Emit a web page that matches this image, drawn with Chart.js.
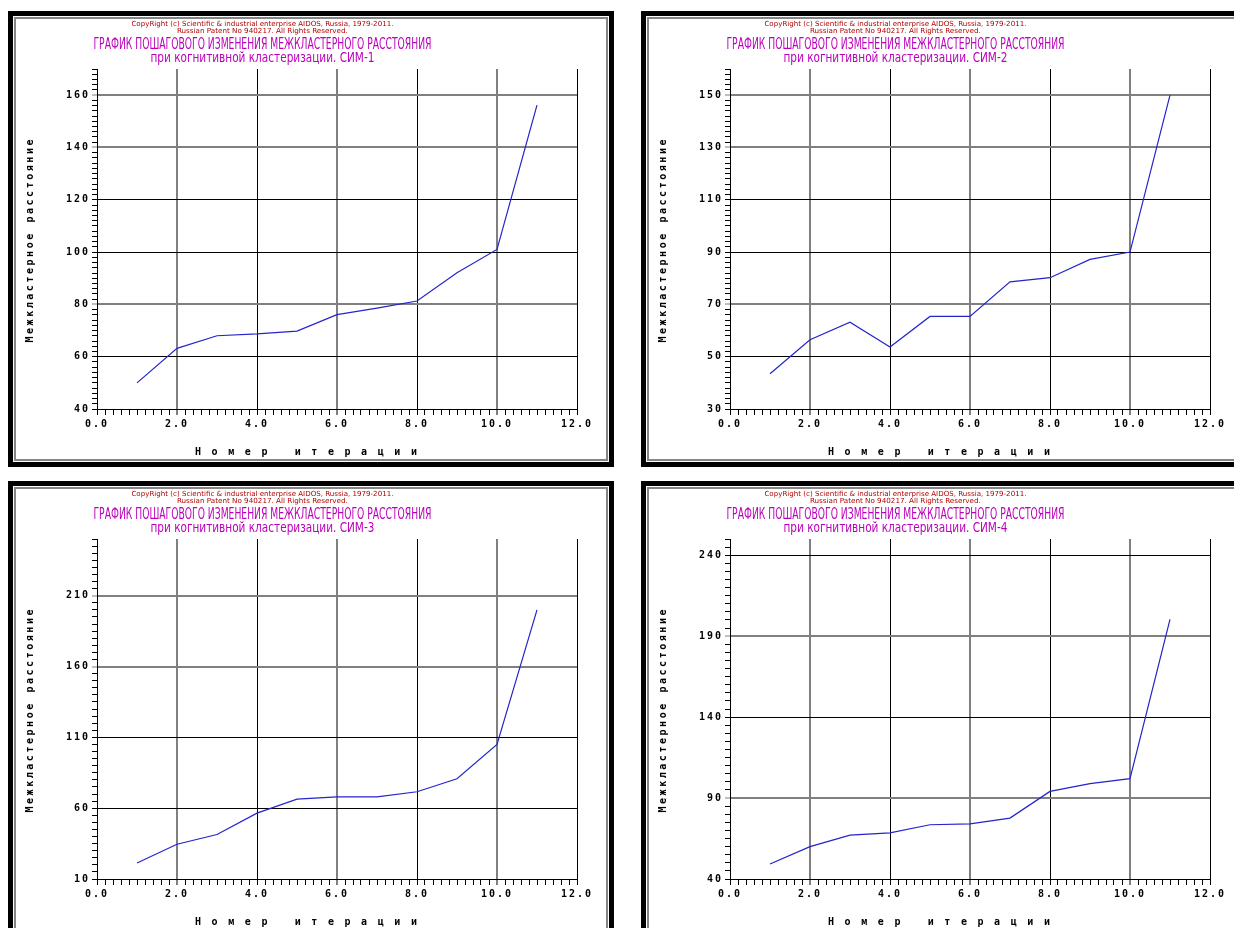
<!DOCTYPE html>
<html lang="ru">
<head>
<meta charset="UTF-8">
<title>График пошагового изменения межкластерного расстояния</title>
<script src="https://cdn.jsdelivr.net/npm/chart.js@4"></script>
<style>
html,body{margin:0;padding:0;background:#fff;width:1234px;height:928px;overflow:hidden;position:relative;}
.panel{position:absolute;width:606px;height:456px;}
.frame{position:absolute;left:0;top:0;width:606px;height:456px;box-sizing:border-box;border:5px solid #000;background:#fff;box-shadow:inset 0 0 0 1px #fff,inset 0 0 0 3px #858585;}
.panel canvas{position:absolute;left:0;top:0;}
.txt{position:absolute;white-space:nowrap;text-align:center;}
.txt span{display:inline-block;transform-origin:50% 50%;}
.copy{color:#b00000;font:7px/8px "DejaVu Sans",sans-serif;}
.ttl{color:#bb00bb;font:15px/15px "DejaVu Sans Condensed","DejaVu Sans",sans-serif;}
.sub{color:#bb00bb;font:13.5px/13.5px "DejaVu Sans Condensed","DejaVu Sans",sans-serif;}
.ax{color:#000;font:bold 10px/12px "DejaVu Sans Mono",monospace;}
</style>
</head>
<body>
<script>
// данные: номер итерации и межкластерное расстояние для СИМ-1..СИМ-4
const iterations = [1, 2, 3, 4, 5, 6, 7, 8, 9, 10, 11];
const sim1 = [50.0, 63.2, 68.0, 68.7, 69.8, 76.1, 78.6, 81.3, 92.1, 101.0, 156.2];
const sim2 = [43.5, 56.5, 63.2, 53.7, 65.4, 65.4, 78.6, 80.2, 87.2, 90.0, 150.0];
const sim3 = [21.3, 34.5, 41.4, 56.5, 66.4, 68.0, 68.0, 71.6, 80.8, 105.0, 200.0];
const sim4 = [49.3, 60.0, 67.1, 68.5, 73.5, 74.1, 77.6, 94.1, 98.9, 102.0, 200.3];

const xTickLabels = [0, 2, 4, 6, 8, 10, 12];
const yTickLabels1 = [40, 60, 80, 100, 120, 140, 160];
const yTickLabels2 = [30, 50, 70, 90, 110, 130, 150];
const yTickLabels3 = [10, 60, 110, 160, 210];
const yTickLabels4 = [40, 90, 140, 190, 240];
const yTops = [170, 160, 250, 250];
const yMinorSteps = [2, 2, 5, 5];
const simNames = ['СИМ-1', 'СИМ-2', 'СИМ-3', 'СИМ-4'];

const copyLine1 = 'CopyRight (c) Scientific & industrial enterprise AIDOS, Russia, 1979-2011.';
const copyLine2 = 'Russian Patent No 940217. All Rights Reserved.';
const titleLine = 'ГРАФИК ПОШАГОВОГО ИЗМЕНЕНИЯ МЕЖКЛАСТЕРНОГО РАССТОЯНИЯ';
const subLine = 'при когнитивной кластеризации. ';
const yTitle = 'Межкластерное расстояние';
const xTitle = 'Номер итерации';

// раскладка панелей (стиль, не данные)
const panels = [
  {left: 8, top: 11, series: sim1, yLabels: yTickLabels1, grayY: [160, 140, 80]},
  {left: 641, top: 11, series: sim2, yLabels: yTickLabels2, grayY: [150, 130, 70]},
  {left: 8, top: 481, series: sim3, yLabels: yTickLabels3, grayY: [210, 160]},
  {left: 641, top: 481, series: sim4, yLabels: yTickLabels4, grayY: [190, 90]}
];
const grayX = [2, 6, 10];

const near = (arr, v) => arr.some(a => Math.abs(a - v) < 1e-6);

const spacing = {id: 'spacing', beforeDraw(chart) { chart.ctx.letterSpacing = '2px'; }};

function addText(panel, cls, text, cx, top, fitW, mode) {
  const d = document.createElement('div');
  d.className = 'txt ' + cls;
  d.style.left = (cx - 300) + 'px';
  d.style.width = '600px';
  d.style.top = top + 'px';
  const s = document.createElement('span');
  s.textContent = text;
  d.appendChild(s);
  panel.appendChild(d);
  const w = s.getBoundingClientRect().width;
  if (mode === 'space') {
    const ls = (fitW - w) / (text.length - 1);
    s.style.letterSpacing = ls + 'px';
    s.style.marginRight = (-ls) + 'px';
  } else {
    s.style.transform = 'scaleX(' + (fitW / w) + ')';
  }
  return d;
}

function makeChart(canvas, cfg, idx) {
  const yMin = cfg.yLabels[0];
  const fontT = {family: 'DejaVu Sans Mono', size: 10, weight: 'bold'};
  return new Chart(canvas, {
    type: 'line',
    data: {
      datasets: [{
        data: iterations.map((x, i) => ({x: x, y: cfg.series[i]})),
        borderColor: '#2424cc', borderWidth: 1.2, pointRadius: 0, tension: 0, fill: false
      }]
    },
    options: {
      responsive: false, animation: false, devicePixelRatio: 1,
      layout: {padding: {left: 0, top: 58, right: 37, bottom: 0}},
      plugins: {legend: {display: false}, tooltip: {enabled: false}},
      scales: {
        x: {
          type: 'linear', min: 0, max: 12,
          afterFit(s) { s.height = 58; },
          ticks: {
            stepSize: 0.2, autoSkip: false, maxRotation: 0, minRotation: 0, padding: 3,
            color: '#000', font: fontT,
            callback: v => near(xTickLabels, v) ? Number(v).toFixed(1) : ''
          },
          grid: {
            tickLength: 6,
            color: c => (c.tick.value > 0 && near(xTickLabels, c.tick.value)) ? (near(grayX, c.tick.value) ? '#808080' : '#000') : 'rgba(0,0,0,0)',
            lineWidth: c => near(grayX, c.tick.value) ? 2 : 1,
            tickColor: c => near(grayX, c.tick.value) ? '#808080' : '#000',
            tickWidth: c => near(grayX, c.tick.value) ? 2 : 1
          },
          border: {display: true, color: '#000', width: 1}
        },
        y: {
          type: 'linear', min: yMin, max: yTops[idx],
          afterFit(s) { s.width = 89; },
          ticks: {
            stepSize: yMinorSteps[idx], autoSkip: false, padding: 2,
            color: '#000', font: fontT,
            callback: v => near(cfg.yLabels, v) ? String(v) : ''
          },
          grid: {
            tickLength: 5,
            color: c => (c.tick.value > yMin && near(cfg.yLabels, c.tick.value)) ? (near(cfg.grayY, c.tick.value) ? '#808080' : '#000') : 'rgba(0,0,0,0)',
            lineWidth: c => near(cfg.grayY, c.tick.value) ? 2 : 1,
            tickColor: c => (near(cfg.yLabels, c.tick.value) && near(cfg.grayY, c.tick.value)) ? '#808080' : '#000',
            tickWidth: 1
          },
          border: {display: true, color: '#000', width: 1}
        }
      }
    },
    plugins: [spacing]
  });
}

panels.forEach((cfg, idx) => {
  const p = document.createElement('div');
  p.className = 'panel';
  p.style.left = cfg.left + 'px';
  p.style.top = cfg.top + 'px';
  const f = document.createElement('div');
  f.className = 'frame';
  p.appendChild(f);
  const cv = document.createElement('canvas');
  cv.width = 606; cv.height = 456;
  p.appendChild(cv);
  document.body.appendChild(p);

  addText(p, 'copy', copyLine1, 254, 8.6, 262);
  addText(p, 'copy', copyLine2, 254, 15.6, 171);
  addText(p, 'ttl', titleLine, 254, 26.3, 338);
  addText(p, 'sub', subLine + simNames[idx], 254, 39.6, 224);
  addText(p, 'ax', xTitle, 298, 435, 222, 'space');
  const yt = addText(p, 'ax', yTitle, 22, 224, 203, 'space');
  yt.style.height = '12px';
  yt.style.transform = 'rotate(-90deg)';

  makeChart(cv, cfg, idx);
});
</script>
</body>
</html>
